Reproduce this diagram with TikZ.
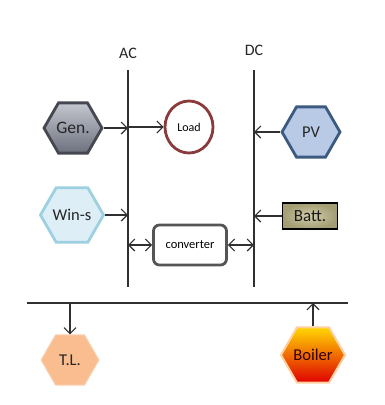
\documentclass[tikz,border=0pt]{standalone}
\usepackage{fontspec}
\setmainfont{Carlito}
\usetikzlibrary{shapes.geometric,arrows.meta}
\definecolor{linec}{HTML}{303030}
\definecolor{genb}{HTML}{45484F}
\definecolor{gentop}{HTML}{C4C7CF}
\definecolor{genbot}{HTML}{6C717E}
\definecolor{loadb}{HTML}{8A3A3A}
\definecolor{pvfill}{HTML}{B8CAE6}
\definecolor{pvb}{HTML}{3D5A80}
\definecolor{winfill}{HTML}{DDEEF6}
\definecolor{winb}{HTML}{9DD0E0}
\definecolor{convb}{HTML}{555555}
\definecolor{battin}{HTML}{D2CCAA}
\definecolor{battout}{HTML}{A39D74}
\definecolor{tlfill}{HTML}{F9BD8F}
\definecolor{tlb}{HTML}{FAD3B5}
\definecolor{boiltop}{HTML}{FFD700}
\definecolor{boilmid}{HTML}{FF7A00}
\definecolor{boilbot}{HTML}{E00000}
\definecolor{boilglow}{HTML}{FFD0A0}
\tikzset{
  hexa/.style={shape=regular polygon, regular polygon sides=6, inner sep=0pt,
    minimum size=58pt, font=\fontsize{16.5}{18}\selectfont, text=black!85},
  bus/.style={draw=linec, line width=1.1pt},
  arr/.style={draw=linec, line width=1.1pt, -{Straight Barb[length=6pt,width=12pt]}},
  darr/.style={draw=linec, line width=1.1pt, {Straight Barb[length=6pt,width=12pt]}-{Straight Barb[length=6pt,width=12pt]}},
  lbl/.style={font=\fontsize{16}{18}\selectfont, text=black!85}
}
\begin{document}
\begin{tikzpicture}[x=1pt,y=-1pt]
\useasboundingbox[fill=white] (0,0) rectangle (384,405);
% labels
\node[lbl] (aclbl) at (128,53) {AC};
\node[lbl] (dclbl) at (254,50) {DC};
% buses
\coordinate (acT) at (128,70);
\coordinate (acB) at (128,287);
\coordinate (dcT) at (254,70);
\coordinate (dcB) at (254,287);
\coordinate (busL) at (27,303);
\coordinate (busR) at (348,303);
\draw[bus] (acT) -- (acB);
\draw[bus] (dcT) -- (dcB);
\draw[bus] (busL) -- (busR);
% nodes
\node[hexa, draw=genb, line width=2.8pt, top color=gentop, bottom color=genbot, font=\fontsize{17.5}{19}\selectfont] (gen) at (73,128) {Gen.};
\node[ellipse, draw=loadb, line width=2.8pt, fill=white, minimum width=48pt, minimum height=52pt, inner sep=0pt,
  font=\fontsize{12}{14}\selectfont] (load) at (189,127) {Load};
\node[hexa, draw=pvb, line width=2.8pt, fill=pvfill] (pv) at (311,132) {PV};
\node[hexa, draw=winb, line width=2.8pt, fill=winfill] (win) at (72,215) {Win-s};
\node[draw=convb, line width=2.8pt, rounded corners=6pt, fill=white, minimum width=73pt, minimum height=40pt,
  inner sep=0pt, font=\fontsize{12.5}{14}\selectfont] (conv) at (190,245) {converter};
\node[draw=black, line width=1.4pt, inner color=battin, outer color=battout, minimum width=55pt, minimum height=26pt,
  inner sep=0pt, font=\fontsize{17}{18}\selectfont, text=black!90] (batt) at (310,216) {Batt.};
\node[hexa, draw=tlb, line width=1pt, fill=tlfill] (tl) at (70,360) {T.L.};
\node[hexa, draw=boilglow, line width=2pt, minimum size=53pt, shading=axis, top color=boiltop, middle color=boilmid,
  bottom color=boilbot, text=black!70!red!60!black] (boil) at (313,355) {Boiler};
% connectors
\draw[arr] (gen.east) -- (gen.east -| acT);
\draw[arr] (load.west -| acT) -- (load.west);
\draw[arr] (pv.west) -- (pv.west -| dcT);
\draw[arr] (win.east) -- (win.east -| acT);
\draw[darr] (conv.west -| acT) -- (conv.west);
\draw[darr] (conv.east) -- (conv.east -| dcT);
\draw[arr] (batt.west) -- (batt.west -| dcT);
\draw[arr] (tl.north |- busL) -- (tl.north);
\draw[arr] (boil.north) -- (boil.north |- busL);
\end{tikzpicture}
\end{document}
